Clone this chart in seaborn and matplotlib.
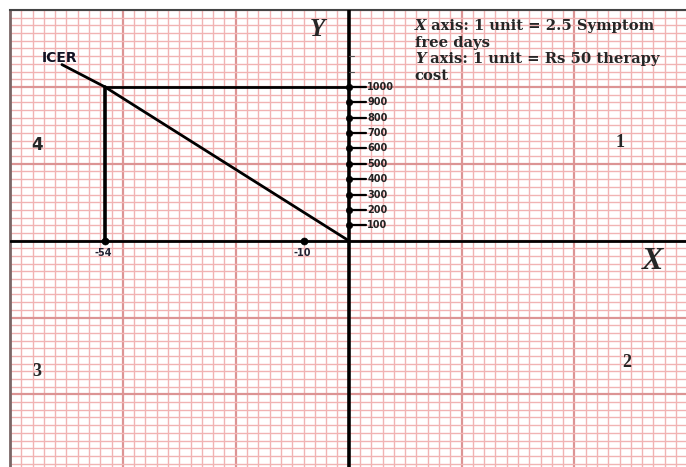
import numpy as np
import pandas as pd
import matplotlib
matplotlib.use("Agg")
import matplotlib.pyplot as plt
import seaborn as sns

# values (x in symptom free days, y in Rs therapy cost)
icer_x = [0, -54, -63.5]
icer_y = [0, 1000, 1145]
y_ticks = [100, 200, 300, 400, 500, 600, 700, 800, 900, 1000]
x_points = [-54, -10]
x_labels = ["-54", "-10"]
extra_y_ticks = [1100, 1200]
quadrants = ["1", "2", "3", "4"]
quadrant_pos = [(60, 640), (61.5, -790), (-69, -850), (-69, 620)]

GRID_MINOR = '#f1b3b3'
GRID_MAJOR = '#dc9494'

sns.set_style("white")

fig = plt.figure(figsize=(6.86, 4.67), dpi=100)
ax = fig.add_axes([10 / 686, 0, 676 / 686, 457 / 467])
ax.set_xlim(-75, 74.7)
ax.set_ylim(-1472, 1500)

# graph paper
ax.set_xticks(np.arange(-75, 75, 25))
ax.set_yticks(np.arange(-1000, 1501, 500))
ax.set_xticks(np.arange(-75, 75, 2.5), minor=True)
ax.set_yticks(np.arange(-1450, 1501, 50), minor=True)
ax.grid(which='minor', color=GRID_MINOR, linewidth=1.0)
ax.grid(which='major', color=GRID_MAJOR, linewidth=1.6)
ax.set_axisbelow(True)
ax.tick_params(which='both', length=0, labelbottom=False, labelleft=False)
for side in ['right', 'bottom']:
    ax.spines[side].set_visible(False)
ax.spines['left'].set_color('#7a6666')
ax.spines['left'].set_linewidth(2)
ax.spines['top'].set_color('#444444')
ax.spines['top'].set_linewidth(1.5)

# axes through the origin
ax.axvline(0, color='black', linewidth=2.6, zorder=3)
ax.axhline(0, color='black', linewidth=2.0, zorder=3)

# ICER line and guide lines
icer = pd.DataFrame({'x': icer_x, 'y': icer_y})
sns.lineplot(data=icer, x='x', y='y', color='black', linewidth=2.0,
             sort=False, estimator=None, ax=ax, zorder=4)
ax.plot([icer_x[1], 0], [icer_y[1], icer_y[1]], color='black', linewidth=2.0, zorder=4)
ax.plot([icer_x[1], icer_x[1]], [0, icer_y[1]], color='black', linewidth=2.6, zorder=4)
ax.text(-64.1, 1188, "ICER", fontsize=10, fontweight='bold',
        family='DejaVu Sans', ha='center', va='center', color='#111122', zorder=5)

# y scale ticks
for v in y_ticks:
    ax.plot([0, 3.8], [v, v], color='black', linewidth=1.6, zorder=4)
    ax.text(4.1, v, str(v), fontsize=7, fontweight='bold', family='DejaVu Sans',
            ha='left', va='center', color='#222222', zorder=5)
for v in extra_y_ticks:
    ax.plot([0, 1.2], [v, v], color='#555555', linewidth=0.8, zorder=4)
sns.scatterplot(x=[0] * len(y_ticks), y=y_ticks, color='black', s=22,
                edgecolor='black', ax=ax, zorder=5)

# x scale points
sns.scatterplot(x=x_points, y=[0, 0], color='black', s=26, edgecolor='black', ax=ax, zorder=5)
for xv, lab in zip(x_points, x_labels):
    ax.text(xv - 0.3, -78, lab, fontsize=7, fontweight='bold', family='DejaVu Sans',
            ha='center', va='center', color='#222233', zorder=5)

# axis names
ax.text(-7, 1375, "Y", fontsize=18, fontweight='bold', style='italic',
        family='Liberation Serif', ha='center', va='center', zorder=5)
ax.text(67.2, -135, "X", fontsize=23, fontweight='bold', style='italic',
        family='Liberation Serif', ha='center', va='center', zorder=5)

# quadrant numbers
for q, (qx, qy) in zip(quadrants, quadrant_pos):
    fam = 'DejaVu Sans' if q == '4' else 'Liberation Serif'
    size = 12 if q == '4' else 13
    ax.text(qx, qy, q, fontsize=size, fontweight='bold', family=fam,
            ha='center', va='center', zorder=5)

# scale note
note = [("X", " axis: 1 unit = 2.5 Symptom"), ("", "free days"),
        ("Y", " axis: 1 unit = Rs 50 therapy"), ("", "cost")]
x0 = (415 - 349) / 4.51
for i, (lead, rest) in enumerate(note):
    yy = (241 - 34 - i * 16.5) / 0.1535
    t = ax.text(x0, yy, lead, fontsize=10.6, fontweight='bold', style='italic',
                family='DejaVu Serif', ha='left', va='bottom', zorder=5)
    ax.annotate(rest, xy=(1, 0), xycoords=t, fontsize=10.6, fontweight='bold',
                family='DejaVu Serif', ha='left', va='bottom', zorder=5)

ax.set_xlabel('')
ax.set_ylabel('')
if ax.get_legend() is not None:
    ax.get_legend().remove()

fig.savefig('out.png', dpi=100)
